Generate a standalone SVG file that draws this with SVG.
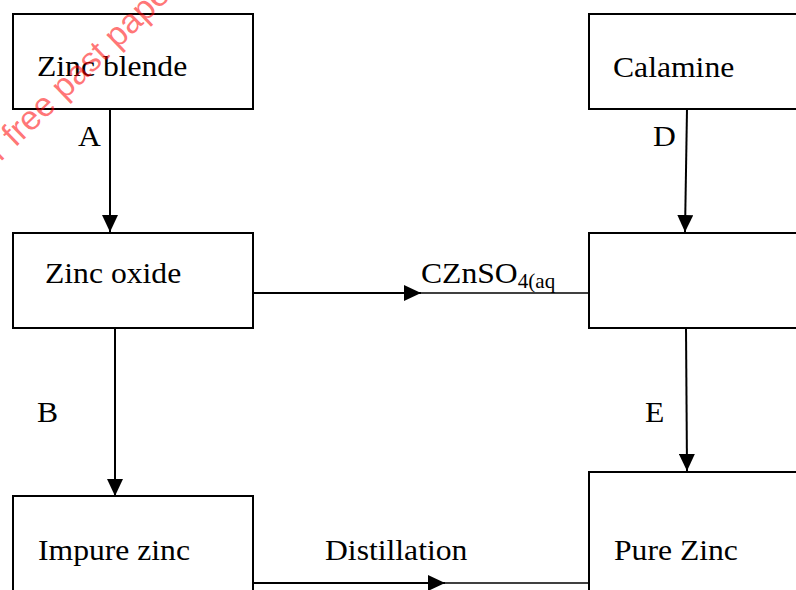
<svg xmlns="http://www.w3.org/2000/svg" width="796" height="590" viewBox="0 0 796 590">
<style>
.box{fill:#fff;stroke:#000;stroke-width:2}
.t{font-family:"Liberation Serif","Times New Roman",serif;font-size:30px;fill:#000}
.sub{font-size:20px}
.c{stroke:#000;stroke-width:2;fill:none}
.thin{stroke:#000;stroke-width:1.5;fill:none}
.wm{font-family:"Liberation Sans",Arial,sans-serif;font-size:34px;fill:#ff0000;fill-opacity:0.55}
</style>
<defs>
<marker id="ah" viewBox="0 0 17 16" refX="17" refY="8" markerWidth="17" markerHeight="16" markerUnits="userSpaceOnUse" orient="auto">
<path d="M0,0 L17,8 L0,16 z" fill="#000"/>
</marker>
</defs>
<rect width="796" height="590" fill="#fff"/>
<g id="n-zinc-blende"><rect class="box" x="13" y="14" width="240" height="95"/><text class="t" transform="translate(37,76) scale(1.055,1)">Zinc blende</text></g>
<g id="n-calamine"><rect class="box" x="589" y="14" width="240" height="95"/><text class="t" transform="translate(613,77) scale(1.055,1)">Calamine</text></g>
<g id="n-zinc-oxide"><rect class="box" x="13" y="233" width="240" height="95"/><text class="t" transform="translate(45,283) scale(1.055,1)">Zinc oxide</text></g>
<g id="n-blank"><rect class="box" x="589" y="233" width="240" height="95"/></g>
<g id="n-impure-zinc"><rect class="box" x="13" y="496" width="240" height="120"/><text class="t" transform="translate(38,560) scale(1.055,1)">Impure zinc</text></g>
<g id="n-pure-zinc"><rect class="box" x="589" y="472" width="240" height="140"/><text class="t" transform="translate(614,560) scale(1.055,1)">Pure Zinc</text></g>
<g id="connectors">
<line class="c" x1="110" y1="109" x2="110" y2="232" marker-end="url(#ah)"/>
<line class="c" x1="687" y1="109" x2="685" y2="232" marker-end="url(#ah)"/>
<line class="c" x1="115" y1="328" x2="115" y2="496" marker-end="url(#ah)"/>
<line class="c" x1="686" y1="328" x2="687" y2="471" marker-end="url(#ah)"/>
<line class="c" x1="253" y1="293" x2="421" y2="293" marker-end="url(#ah)"/>
<line class="thin" x1="420" y1="293" x2="589" y2="293"/>
<line class="c" x1="253" y1="583" x2="445" y2="583" stroke-width="3" marker-end="url(#ah)"/>
<line class="thin" x1="444" y1="583" x2="589" y2="583"/>
</g>
<g id="labels">
<text class="t" transform="translate(78,146) scale(1.055,1)">A</text>
<text class="t" transform="translate(653,146) scale(1.055,1)">D</text>
<text class="t" transform="translate(37,422) scale(1.055,1)">B</text>
<text class="t" transform="translate(645,422) scale(1.055,1)">E</text>
<text class="t" transform="translate(421,283) scale(1.055,1)">CZnSO<tspan class="sub" dy="5">4(aq</tspan></text>
<text class="t" transform="translate(325,560) scale(1.055,1)">Distillation</text>
</g>
<text class="wm" transform="translate(-20,182) rotate(-44)">for free past papers</text>
</svg>
